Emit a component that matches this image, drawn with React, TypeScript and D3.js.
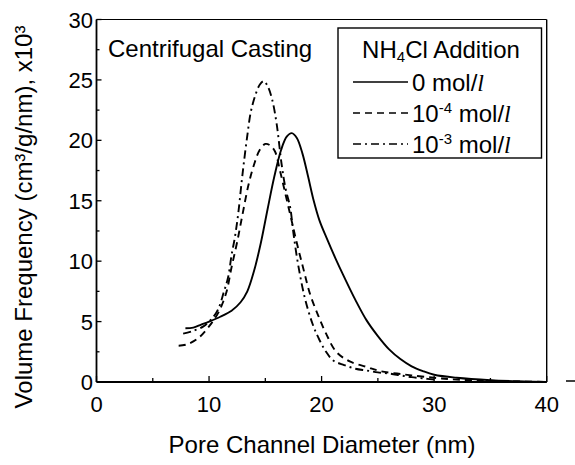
import React from "react";
import * as d3 from "d3";

const xTicks = [0, 10, 20, 30, 40];
const xMinor = [5, 15, 25, 35];
const yTicks = [0, 5, 10, 15, 20, 25, 30];
const yMinor = [2.5, 7.5, 12.5, 17.5, 22.5, 27.5];

const solidX = [7.9, 8.6, 9.3, 10, 11, 12, 12.8, 13.4, 14, 14.6, 15.2, 15.8, 16.4, 16.9, 17.35, 17.8, 18.3, 18.8, 19.3, 19.8, 20.5, 21.2, 22, 23, 24, 25, 26, 27, 28, 29, 30, 32, 35, 38, 40];
const solidY = [4.45, 4.5, 4.75, 5.0, 5.4, 5.9, 6.6, 7.5, 9.2, 11.5, 14.3, 17.0, 19.2, 20.3, 20.6, 20.2, 18.9, 17.0, 15.0, 13.4, 11.8, 10.3, 8.7, 6.8, 5.1, 3.8, 2.7, 1.9, 1.3, 0.9, 0.6, 0.35, 0.15, 0.05, 0.0];

const dashX = [7.3, 8.0, 9.0, 10.0, 10.8, 11.5, 12.0, 12.5, 13.0, 13.5, 14.0, 14.5, 15.0, 15.4, 15.85, 16.3, 16.8, 17.3, 17.8, 18.4, 19.0, 19.7, 20.4, 21.3, 22.5, 24.0, 25.2, 26.7, 28.0, 30.0, 32.0, 35.0, 40.0];
const dashY = [3.0, 3.1, 3.6, 4.6, 5.7, 7.3, 9.5, 11.6, 14.0, 16.3, 18.0, 19.2, 19.7, 19.6, 19.1, 17.5, 15.5, 13.5, 11.5, 9.3, 7.2, 5.5, 4.0, 2.5, 1.7, 1.25, 0.9, 0.7, 0.55, 0.35, 0.2, 0.1, 0.0];

const dotX = [7.7, 8.5, 9.5, 10.3, 10.8, 11.3, 11.7, 12.0, 12.3, 12.6, 12.9, 13.1, 13.4, 13.7, 14.1, 14.5, 14.85, 15.2, 15.6, 16.0, 16.45, 16.8, 17.2, 17.5, 17.9, 18.5, 19.2, 19.8, 20.4, 21.0, 22.0, 23.0, 24.0, 25.0, 26.0, 27.0, 28.0, 29.0, 30.0];
const dotY = [4.0, 4.2, 4.6, 5.3, 6.0, 7.4, 8.7, 10.5, 12.0, 14.0, 16.6, 18.2, 20.4, 22.3, 23.7, 24.6, 24.9, 24.5, 23.4, 21.4, 18.0, 16.0, 14.5, 12.3, 9.8, 7.0, 4.8, 3.5, 2.5, 1.8, 1.4, 1.1, 0.95, 0.8, 0.7, 0.55, 0.4, 0.3, 0.2];

const seriesNames = ["0", "-4", "-3"];

export default function App() {
  const x = d3.scaleLinear().domain([0, 40]).range([96.5, 546.7]);
  const y = d3.scaleLinear().domain([0, 30]).range([382, 19.5]);
  const line = d3
    .line<[number, number]>()
    .x((d) => x(d[0]))
    .y((d) => y(d[1]))
    .curve(d3.curveCatmullRom.alpha(0.5));
  const zip = (a: number[], b: number[]) => a.map((v, i) => [v, b[i]] as [number, number]);
  const series = [
    { pts: zip(solidX, solidY), dash: undefined },
    { pts: zip(dashX, dashY), dash: "7,5" },
    { pts: zip(dotX, dotY), dash: "8,4,2,4" },
  ];
  const font = "'Liberation Sans', Arial, Helvetica, sans-serif";
  const legendYs = [82, 113, 144];
  return (
    <svg
      width={575}
      height={465}
      style={{ position: "absolute", left: 0, top: 0, background: "#fff" }}
      fontFamily={font}
    >
      <rect x={0} y={0} width={575} height={465} fill="#fff" />
      {/* frame */}
      <line x1={x(0)} x2={x(40)} y1={y(30)} y2={y(30)} stroke="#000" strokeWidth={1.2} />
      <line x1={x(40)} x2={x(40)} y1={y(30)} y2={y(0)} stroke="#000" strokeWidth={1.4} />
      <line x1={x(0)} x2={x(40)} y1={y(0)} y2={y(0)} stroke="#000" strokeWidth={2} />
      <line x1={x(0)} x2={x(0)} y1={y(30)} y2={y(0)} stroke="#000" strokeWidth={1.8} />
      <line x1={566} x2={575} y1={381} y2={381} stroke="#000" strokeWidth={1.5} />
      {/* x ticks */}
      {xTicks.map((t) => (
        <g key={"xt" + t}>
          <line x1={x(t)} x2={x(t)} y1={y(0)} y2={y(0) - 6} stroke="#000" strokeWidth={1.3} />
          <text x={x(t)} y={412} fontSize={22} textAnchor="middle">
            {t}
          </text>
        </g>
      ))}
      {xMinor.map((t) => (
        <line key={"xm" + t} x1={x(t)} x2={x(t)} y1={y(0)} y2={y(0) - 4} stroke="#000" strokeWidth={1.3} />
      ))}
      {yTicks.map((t) => (
        <g key={"yt" + t}>
          <line x1={x(0)} x2={x(0) + 5} y1={y(t)} y2={y(t)} stroke="#000" strokeWidth={1.3} />
          <text x={93} y={y(t) + 8} fontSize={22} textAnchor="end">
            {t}
          </text>
        </g>
      ))}
      {yMinor.map((t) => (
        <line key={"ym" + t} x1={x(0)} x2={x(0) + 3} y1={y(t)} y2={y(t)} stroke="#000" strokeWidth={1.3} />
      ))}
      {/* curves */}
      {series.map((s, i) => (
        <path
          key={seriesNames[i]}
          d={line(s.pts) || ""}
          fill="none"
          stroke="#000"
          strokeWidth={1.9}
          strokeDasharray={s.dash}
        />
      ))}
      {/* annotation */}
      <text x={108} y={57} fontSize={24}>
        Centrifugal Casting
      </text>
      {/* legend */}
      <rect x={338} y={28} width={203.5} height={130} fill="#fff" stroke="#000" strokeWidth={1.4} />
      <text x={441} y={58} fontSize={24} textAnchor="middle">
        NH<tspan fontSize={15} dy={4}>4</tspan>
        <tspan dy={-4}>Cl Addition</tspan>
      </text>
      {series.map((s, i) => (
        <g key={"lg" + i}>
          <line
            x1={353}
            x2={408}
            y1={legendYs[i]}
            y2={legendYs[i]}
            stroke="#000"
            strokeWidth={1.6}
            strokeDasharray={s.dash}
          />
          <text x={412} y={legendYs[i] + 8.5} fontSize={24}>
            {i === 0 ? (
              <tspan>0 mol/</tspan>
            ) : (
              <>
                <tspan>10</tspan>
                <tspan fontSize={15} dy={-9}>
                  {seriesNames[i]}
                </tspan>
                <tspan dy={9}> mol/</tspan>
              </>
            )}
            <tspan fontFamily="'Liberation Serif', serif" fontStyle="italic">
              l
            </tspan>
          </text>
        </g>
      ))}
      {/* axis titles */}
      <text x={322} y={453} fontSize={24} textAnchor="middle">
        Pore Channel Diameter (nm)
      </text>
      <text
        transform="translate(32,217) rotate(-90)"
        fontSize={24}
        textAnchor="middle"
      >
        Volume Frequency (cm³/g/nm), x10³
      </text>
    </svg>
  );
}
